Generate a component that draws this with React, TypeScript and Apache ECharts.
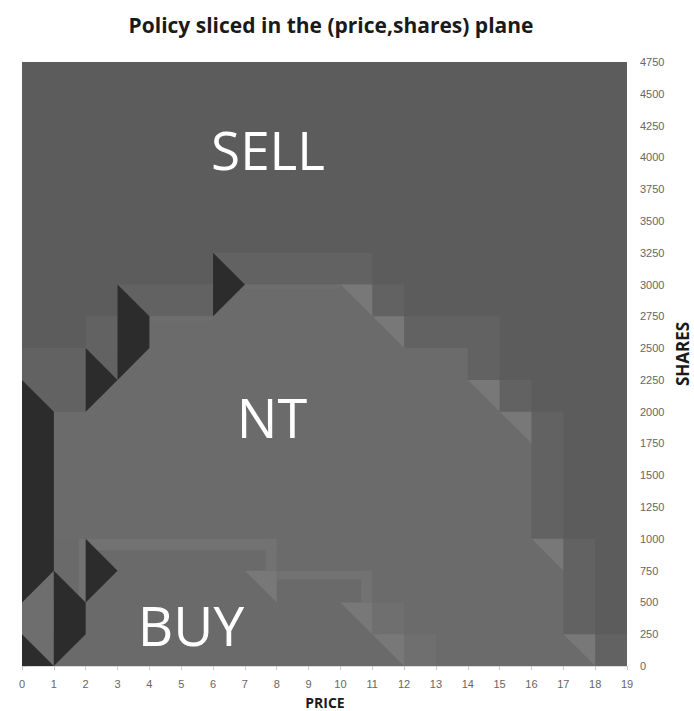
import React, { useEffect, useRef } from "react";
import * as echarts from "echarts";

// ---- axes ----
const PRICE_MIN = 0;
const PRICE_MAX = 19;
const PRICE_STEP = 1;
const SHARES_MIN = 0;
const SHARES_MAX = 4750;
const SHARES_STEP = 250;

const TITLE = "Policy sliced in the (price,shares) plane";
const X_NAME = "PRICE";
const Y_NAME = "SHARES";
const REGION_LABELS = ["SELL", "NT", "BUY"];

// ---- policy regions (price, shares) ----
const plotArea: number[][] = [
  [0, 0], [19, 0], [19, 4750], [0, 4750],
];

// top of the transition band for each price column 0..18
const bandColumnTops = [
  2500, 2500, 2750, 3000, 3000, 3000, 3250, 3250, 3250, 3250,
  3250, 3000, 2750, 2750, 2750, 2250, 2000, 1000, 250,
];

const ntBoundary: number[][] = [
  [1, 0], [1, 2000], [2, 2000], [3, 2250], [4, 2500], [4, 2750],
  [6, 2750], [7, 3000], [10, 3000], [11, 2750], [12, 2500], [14, 2500],
  [14, 2250], [15, 2000], [16, 1750], [16, 1000], [17, 750], [17, 250],
  [18, 0],
];

const buyBoundary: number[][] = [
  [1, 0], [1, 1000], [8, 1000], [8, 750], [11, 750], [11, 500],
  [12, 500], [12, 250], [13, 250], [13, 0],
];

// [x0, x1, y0, y1]
const buyEdgeStrips: number[][] = [
  [2, 8, 910, 1000],
  [7.65, 8, 750, 1000],
  [8, 11, 680, 750],
  [10.65, 11, 500, 750],
  [1.78, 2, 500, 1000],
];
const buyEdgeCells: number[][] = [
  [11, 12, 250, 500],
  [12, 13, 0, 250],
];
const ntEdgeStrips: number[][] = [
  [7, 10, 2965, 3000],
  [4, 6, 2715, 2750],
];

const lightTriangles: number[][][] = [
  [[10, 3000], [11, 3000], [11, 2750]],
  [[11, 2750], [12, 2750], [12, 2500]],
  [[14, 2250], [15, 2250], [15, 2000]],
  [[15, 2000], [16, 2000], [16, 1750]],
  [[16, 1000], [17, 1000], [17, 750]],
  [[7, 750], [8, 750], [8, 500]],
  [[10, 500], [11, 500], [11, 250]],
  [[11, 250], [12, 250], [12, 0]],
  [[17, 250], [18, 250], [18, 0]],
];

const leftLightPatch: number[][] = [[0, 250], [1, 0], [1, 750], [0, 500]];

const blackShapes: number[][][] = [
  [[0, 0], [1, 0], [0, 250]],
  [[0, 500], [1, 750], [1, 2000], [0, 2250]],
  [[1, 0], [2, 250], [2, 500], [1, 750]],
  [[2, 500], [3, 750], [2, 1000]],
  [[2, 2000], [3, 2250], [2, 2500]],
  [[3, 2250], [4, 2500], [4, 2750], [3, 3000]],
  [[6, 2750], [7, 3000], [6, 3250]],
];

// ---- build layers ----
function staircase(tops: number[]): number[][] {
  const pts: number[][] = [[0, 0]];
  tops.forEach((t, i) => {
    pts.push([i, t]);
    pts.push([i + 1, t]);
  });
  pts.push([tops.length, 0]);
  return pts;
}
function rect(r: number[]): number[][] {
  const [x0, x1, y0, y1] = r;
  return [[x0, y0], [x1, y0], [x1, y1], [x0, y1]];
}

const COLORS = {
  sell: "#5c5c5c",
  band: "#626262",
  nt: "#6b6b6b",
  buy: "#6a6a6a",
  buyEdge: "#727272",
  buyCell: "#6f6f6f",
  ntEdge: "#6e6e6e",
  light: "#787878",
  leftLight: "#6e6e6e",
  black: "#2c2c2c",
};

type Layer = { pts: number[][]; color: string };
const layers: Layer[] = [
  { pts: plotArea, color: COLORS.sell },
  { pts: staircase(bandColumnTops), color: COLORS.band },
  { pts: ntBoundary, color: COLORS.nt },
  { pts: buyBoundary, color: COLORS.buy },
  ...buyEdgeCells.map((r) => ({ pts: rect(r), color: COLORS.buyCell })),
  ...buyEdgeStrips.map((r) => ({ pts: rect(r), color: COLORS.buyEdge })),
  ...ntEdgeStrips.map((r) => ({ pts: rect(r), color: COLORS.ntEdge })),
  { pts: leftLightPatch, color: COLORS.leftLight },
  ...lightTriangles.map((p) => ({ pts: p, color: COLORS.light })),
  ...blackShapes.map((p) => ({ pts: p, color: COLORS.black })),
];

const FONT = "'Open Sans', 'Liberation Sans', sans-serif";
const TICK_FONT = "'Liberation Sans', 'DejaVu Sans', sans-serif";

function label(text: string, x: number, y: number, size: number) {
  return {
    type: "text",
    x,
    y,
    z: 100,
    style: {
      text,
      font: `${size}px ${FONT}`,
      fill: "#ffffff",
      textAlign: "center",
      textVerticalAlign: "middle",
    },
  };
}

export default function App() {
  const ref = useRef<HTMLDivElement>(null);
  useEffect(() => {
    document.body.style.margin = "0";
    document.body.style.overflow = "hidden";
    const chart = echarts.init(ref.current!, undefined, { renderer: "svg" });
    const option: any = {
      animation: false,
      backgroundColor: "#ffffff",
      grid: { left: 22, right: 67, top: 62, bottom: 45 },
      xAxis: {
        type: "value",
        min: PRICE_MIN,
        max: PRICE_MAX,
        interval: PRICE_STEP,
        splitLine: { show: false },
        axisLine: { show: true, lineStyle: { color: "#d9d9d9", width: 1 } },
        axisTick: { show: true, length: 4, lineStyle: { color: "#c8c8c8" } },
        axisLabel: { margin: 12, fontSize: 11, color: "#666666", fontFamily: TICK_FONT },
      },
      yAxis: {
        type: "value",
        position: "right",
        min: SHARES_MIN,
        max: SHARES_MAX,
        interval: SHARES_STEP,
        splitLine: { show: false },
        axisLine: { show: true, lineStyle: { color: "#d9d9d9", width: 1 } },
        axisTick: { show: true, length: 4, lineStyle: { color: "#c8c8c8" } },
        axisLabel: {
          margin: 13,
          fontSize: 11,
          color: "#666666",
          fontFamily: TICK_FONT,
          formatter: (v: number) => String(v),
        },
      },
      series: [
        {
          type: "custom",
          coordinateSystem: "cartesian2d",
          data: layers.map(() => [0, 0]),
          silent: true,
          z: 1,
          renderItem: (params: any, api: any) => {
            const layer = layers[params.dataIndex];
            return {
              type: "polygon",
              shape: { points: layer.pts.map((p) => api.coord(p)) },
              style: { fill: layer.color },
            };
          },
        },
      ],
      graphic: [
        {
          type: "text",
          x: 331,
          y: 25,
          z: 100,
          style: {
            text: TITLE,
            font: `bold 21px ${FONT}`,
            fill: "#1a1a1a",
            textAlign: "center",
            textVerticalAlign: "middle",
          },
        },
        {
          type: "text",
          x: 325,
          y: 702,
          z: 100,
          style: {
            text: X_NAME,
            font: `bold 14px ${FONT}`,
            fill: "#1a1a1a",
            textAlign: "center",
            textVerticalAlign: "middle",
          },
        },
        {
          type: "text",
          x: 682,
          y: 354,
          z: 100,
          rotation: Math.PI / 2,
          style: {
            text: Y_NAME,
            font: `bold 17px ${FONT}`,
            fill: "#1a1a1a",
            textAlign: "center",
            textVerticalAlign: "middle",
          },
        },
        label(REGION_LABELS[0], 268, 149, 53),
        label(REGION_LABELS[1], 272, 417, 54),
        label(REGION_LABELS[2], 191, 624, 55),
      ],
    };
    chart.setOption(option);
    return () => chart.dispose();
  }, []);
  return <div ref={ref} style={{ width: 694, height: 711 }} />;
}
